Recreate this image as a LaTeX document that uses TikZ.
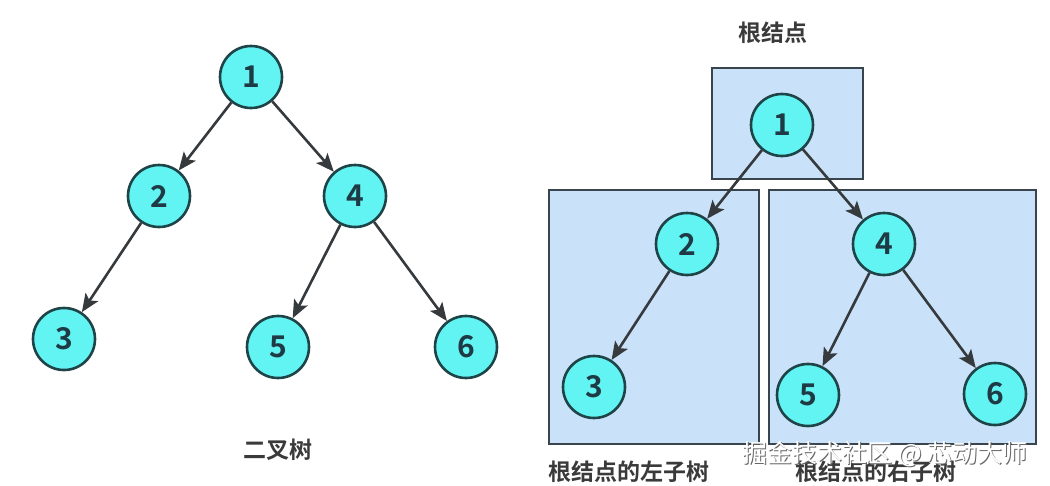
\documentclass[tikz,border=0pt]{standalone}
\usepackage{fontspec}
\setmainfont{Noto Sans CJK SC}
\newfontfamily\cjkb{Noto Sans CJK SC Bold}
\usetikzlibrary{arrows.meta}
\definecolor{nodefill}{HTML}{62F3F3}
\definecolor{nodeline}{HTML}{1F4448}
\definecolor{numcol}{HTML}{1E3A44}
\definecolor{boxfill}{HTML}{C9E2FA}
\definecolor{boxline}{HTML}{3A444C}
\definecolor{edgecol}{HTML}{363A3D}
\definecolor{labcol}{HTML}{3A3A3A}
\tikzset{
  tnode/.style={circle, draw=nodeline, fill=nodefill, line width=2.6pt, minimum size=62pt, inner sep=0pt, font=\cjkb\fontsize{30}{30}\selectfont, text=numcol},
  tedge/.style={draw=edgecol, line width=2.6pt, -{Stealth[length=18pt,width=15pt,inset=4pt]}},
  subbox/.style={draw=boxline, fill=boxfill, line width=2.6pt},
  lab/.style={font=\cjkb\fontsize{23}{23}\selectfont, text=labcol, inner sep=0pt},
  wm/.style={font=\fontsize{25}{25}\selectfont, inner sep=0pt}
}
\begin{document}
\begin{tikzpicture}[x=1pt,y=-1pt]
\useasboundingbox (0,0) rectangle (1050,485);
\fill[white] (0,0) rectangle (1050,485);
% left tree
\node[tnode] (a1) at (251,77) {1};
\node[tnode] (a2) at (159,196) {2};
\node[tnode] (a4) at (355,196) {4};
\node[tnode] (a3) at (64,339) {3};
\node[tnode] (a5) at (278,347) {5};
\node[tnode] (a6) at (466,347) {6};
\draw[tedge] (a1) -- (a2);
\draw[tedge] (a1) -- (a4);
\draw[tedge] (a2) -- (a3);
\draw[tedge] (a4) -- (a5);
\draw[tedge] (a4) -- (a6);
\node[lab] (l1) at (278,450) {二叉树};
% right tree boxes
\node[lab] (l2) at (773,33) {根结点};
\draw[subbox] (712,68) rectangle (863,179);
\draw[subbox] (549,190) rectangle (759,444);
\draw[subbox] (769,190) rectangle (1036,444);
\node[tnode] (b1) at (782,125) {1};
\node[tnode] (b2) at (687,244) {2};
\node[tnode] (b4) at (884,244) {4};
\node[tnode] (b3) at (594,387) {3};
\node[tnode] (b5) at (808,395) {5};
\node[tnode] (b6) at (995,394) {6};
\draw[tedge] (b1) -- (b2);
\draw[tedge] (b1) -- (b4);
\draw[tedge] (b2) -- (b3);
\draw[tedge] (b4) -- (b5);
\draw[tedge] (b4) -- (b6);
\node[lab] (l3) at (629,472) {根结点的左子树};
\node[lab] (l4) at (876,472) {根结点的右子树};
% watermark
\node[wm, text=gray!80!black] (wms) at (886,455) {掘金技术社区 @ 芯动大师};
\node[wm, text=white] (wmk) at (885,454) {掘金技术社区 @ 芯动大师};
\end{tikzpicture}
\end{document}
